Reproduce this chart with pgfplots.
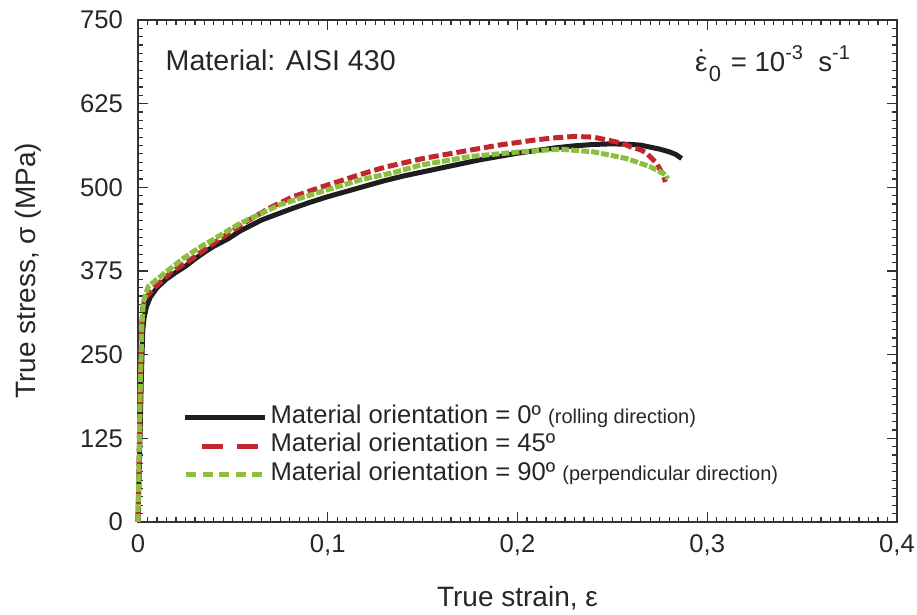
\documentclass[border=0pt]{standalone}
\usepackage{fontspec}
\setmainfont{Liberation Sans}
\usepackage{pgfplots}
\pgfplotsset{compat=1.18}

\definecolor{c0}{RGB}{30,30,30}
\definecolor{c45}{RGB}{193,39,45}
\definecolor{c90}{RGB}{140,190,63}
\definecolor{axc}{RGB}{50,50,50}

\begin{document}
\begin{tikzpicture}
\begin{axis}[
  name=ax,
  width=379.5pt, height=251pt, scale only axis,
  xmin=0, xmax=0.4, ymin=0, ymax=750,
  xtick={0,0.1,0.2,0.3,0.4},
  xticklabels={0,{0,1},{0,2},{0,3},{0,4}},
  ytick={0,125,250,375,500,625,750},
  yticklabels={0,125,250,375,500,625,750},
  /pgf/number format/assume math mode=true,
  minor x tick num=19, minor y tick num=9,
  tick align=inside,
  major tick length=5pt, minor tick length=2.5pt,
  axis line style={axc, line width=0.8pt},
  tick style={axc, line width=0.6pt},
  ticklabel style={font=\fontsize{12.8}{15}\selectfont, text=black!85},
  xticklabel style={yshift=-3pt},
  yticklabel style={xshift=-4pt},
  xlabel={True strain, ε},
  ylabel={True stress, σ (MPa)},
  label style={font=\fontsize{14}{16}\selectfont, text=black!85},
  xlabel style={at={(axis description cs:0.5,-0.151)}, anchor=center},
  ylabel style={at={(axis description cs:-0.145,0.5)}, anchor=center},
  clip=false,
  legend style={at={(0.058,0.237)}, anchor=north west, draw=none, fill=none,
    inner sep=0pt, column sep=1.5pt, font=\fontsize{12.8}{14}\selectfont,
    text=black!85,
    nodes={inner sep=0pt, text height=10pt, text depth=4.25pt}},
  legend cell align=left,
]

% 0 deg (rolling direction)
\addplot[c0, line width=2.5pt, forget plot] coordinates {
(0,0) (0.001,120) (0.0018,220) (0.0025,285) (0.0032,305) (0.0045,322)
(0.0065,336) (0.01,350) (0.015,363) (0.02,373) (0.025,382) (0.03,393)
(0.035,403) (0.04,412) (0.0474,423) (0.054,435) (0.065,451) (0.08,467)
(0.09,477) (0.1,486) (0.11,494) (0.12,502) (0.13,510) (0.14,517)
(0.15,523) (0.16,529) (0.17,535) (0.18,541) (0.19,546) (0.2,551)
(0.21,555) (0.22,559) (0.23,562) (0.24,564) (0.25,565) (0.26,564)
(0.265,563) (0.27,560) (0.275,557) (0.28,553) (0.2835,549) (0.2865,543)
};

% 45 deg
\addplot[c45, line width=2.5pt, dash pattern=on 5pt off 2pt, forget plot] coordinates {
(0,0) (0.0006,100) (0.0012,200) (0.0018,280) (0.0025,320) (0.004,335)
(0.009,351) (0.0177,374) (0.0274,391) (0.037,411) (0.047,430) (0.059,452)
(0.07,470) (0.0817,486) (0.0994,503) (0.117,519) (0.13,530) (0.15,543)
(0.17,553) (0.19,563) (0.21,571) (0.22,574) (0.23,576) (0.24,575)
(0.25,569) (0.255,566) (0.26,560) (0.265,556) (0.268,551) (0.2733,536)
(0.2768,518) (0.278,508)
};

% 90 deg (perpendicular direction)
\addplot[c90, line width=2.5pt, dash pattern=on 4pt off 1pt, forget plot] coordinates {
(0,0) (0.0006,100) (0.0012,200) (0.002,290) (0.0028,329) (0.0054,352)
(0.0098,362) (0.015,374) (0.0239,394) (0.0335,412) (0.039,421) (0.0537,446)
(0.0748,474) (0.0959,493) (0.117,511) (0.136,523) (0.1486,533) (0.175,546)
(0.2013,553) (0.2223,557) (0.24,553) (0.2575,543) (0.2697,531) (0.2768,521)
(0.2794,513)
};

\addlegendimage{legend image code/.code={\draw[c0, line width=2.6pt] (0pt,0pt) -- (40pt,0pt);}}
\addlegendentry{Material orientation = 0º {\fontsize{10}{11}\selectfont (rolling direction)}}
\addlegendimage{legend image code/.code={\draw[c45, line width=2.5pt, dash pattern=on 10.8pt off 6.7pt] (8.3pt,0pt) -- (36.7pt,0pt);}}
\addlegendentry{Material orientation = 45º}
\addlegendimage{legend image code/.code={\draw[c90, line width=2.5pt, dash pattern=on 5pt off 3.3pt] (0.5pt,0pt) -- (38.7pt,0pt);}}
\addlegendentry{Material orientation = 90º {\fontsize{10}{11}\selectfont (perpendicular direction)}}

\node[anchor=west, inner sep=0pt, font=\fontsize{14.3}{16}\selectfont, text=black!85] at (rel axis cs:0.036,0.92) {Material: AISI 430};
\node[anchor=center, inner sep=0pt, font=\fontsize{13.8}{16}\selectfont, text=black!85] at (rel axis cs:0.836,0.914)
  {\raisebox{0pt}[7pt]{$\dot{\mbox{ε}}$}\kern0.8pt\raisebox{-5pt}{\fontsize{11}{11}\selectfont 0}\kern1pt{} = 10\raisebox{6pt}{\fontsize{10}{10}\selectfont -3}\ \ s\raisebox{6pt}{\fontsize{10}{10}\selectfont -1}};
\end{axis}
\pgfresetboundingbox
\path ([xshift=-69pt,yshift=-46.5pt]ax.south west) rectangle ([xshift=10pt,yshift=10pt]ax.north east);
\end{tikzpicture}
\end{document}
